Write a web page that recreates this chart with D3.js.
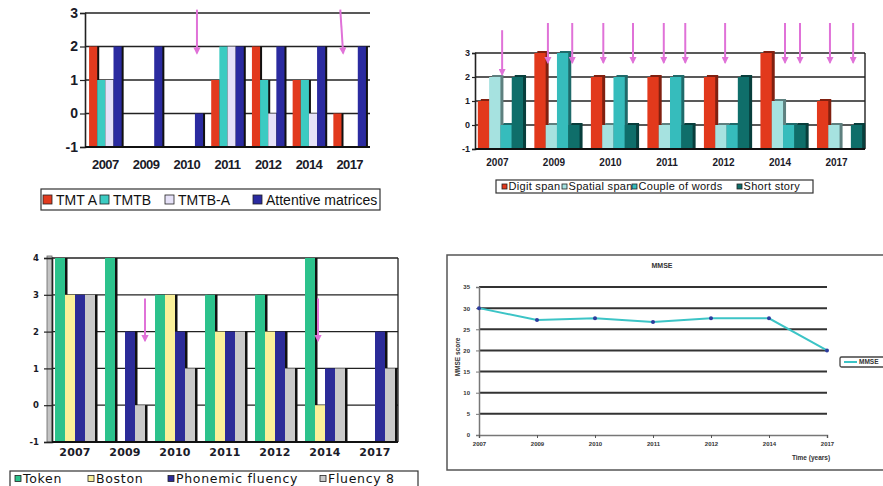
<!DOCTYPE html>
<html>
<head>
<meta charset="utf-8">
<script src="https://cdn.jsdelivr.net/npm/d3@7"></script>
<style>
body { margin: 0; background: #fff; }
svg { display: block; }
</style>
</head>
<body>
<div id="chart"></div>
<script>
// ---- data ----
var years = ["2007", "2009", "2010", "2011", "2012", "2014", "2017"];

var attentionNames = ["TMT A", "TMTB", "TMTB-A", "Attentive matrices"];
var tmtA = [2, -1, -1, 1, 2, 1, 0];
var tmtB = [1, -1, -1, 2, 1, 1, -1];
var tmtBA = [1, -1, -1, 2, 0, 0, -1];
var attentiveMatrices = [2, 2, 0, 2, 2, 2, 2];

var memoryNames = ["Digit span", "Spatial span", "Couple of words", "Short story"];
var digitSpan = [1, 3, 2, 2, 2, 3, 1];
var spatialSpan = [2, 0, 0, 0, 0, 1, 0];
var coupleOfWords = [0, 3, 2, 2, 0, 0, -1];
var shortStory = [2, 0, 0, 0, 2, 0, 0];

var languageNames = ["Token", "Boston", "Phonemic fluency", "Fluency 8"];
var token = [4, 4, 3, 3, 3, 4, -1];
var boston = [3, -1, 3, 2, 2, 0, -1];
var phonemicFluency = [3, 2, 2, 2, 2, 1, 2];
var fluency8 = [3, 0, 1, 2, 1, 1, 1];

var mmseName = "MMSE";
var mmse = [30, 27.2, 27.6, 26.7, 27.6, 27.6, 20];
var mmseTicks = [0, 5, 10, 15, 20, 25, 30, 35];

// arrows: [year, start / end position inside the group (fraction of step), top value, bottom value]
var attentionArrows = [["2010", 0.65, 0.65, 3.1, 1.8], ["2017", 0.17, 0.24, 3.1, 1.8]];
var memoryArrows = [["2007", 0.43, 0.43, 3.95, 2.1], ["2009", 0.24, 0.24, 4.25, 2.6], ["2009", 0.67, 0.67, 4.25, 2.6],
  ["2010", 0.22, 0.22, 4.25, 2.6], ["2010", 0.745, 0.745, 4.25, 2.6], ["2011", 0.29, 0.29, 4.25, 2.6],
  ["2011", 0.67, 0.67, 4.25, 2.6], ["2012", 0.375, 0.375, 4.25, 2.6], ["2014", 0.435, 0.435, 4.25, 2.6],
  ["2014", 0.70, 0.70, 4.25, 2.6], ["2017", 0.23, 0.23, 4.25, 2.6], ["2017", 0.64, 0.64, 4.25, 2.6]];
var languageArrows = [["2009", 0.8, 0.8, 2.9, 1.75], ["2014", 0.26, 0.26, 2.9, 1.75]];

var arrowColor = "#e072d8";

var svg = d3.select("#chart").append("svg")
    .attr("width", 883)
    .attr("height", 486);

svg.append("rect").attr("width", 883).attr("height", 486).attr("fill", "#fff");

svg.append("defs").append("marker")
    .attr("id", "arrowHead")
    .attr("viewBox", "0 0 10 10")
    .attr("refX", 8)
    .attr("refY", 5)
    .attr("markerWidth", 3.6)
    .attr("markerHeight", 3.6)
    .attr("orient", "auto")
    .append("path")
    .attr("d", "M0,0L10,5L0,10z")
    .attr("fill", arrowColor);

function barPanel(p) {
    var g = svg.append("g");

    var x0 = d3.scaleBand().domain(years)
        .range([p.left, p.right])
        .paddingInner(p.pi)
        .paddingOuter(p.po);

    var x1 = d3.scaleBand().domain(d3.range(p.series.length))
        .range([0, x0.bandwidth()]);

    var y = d3.scaleLinear().domain(p.domain).range([p.bottom, p.top]);
    var ticks = d3.range(p.domain[0], p.domain[1] + 1);

    if (p.wall) {
        g.append("rect")
            .attr("x", p.left - p.wall)
            .attr("y", p.top - 2)
            .attr("width", p.wall)
            .attr("height", p.bottom - p.top + 2)
            .attr("fill", "#c4c4c4")
            .attr("stroke", "#666")
            .attr("stroke-width", 0.8);
    }

    // horizontal gridlines
    g.selectAll("line.grid")
        .data(ticks.slice(1))
        .enter().append("line")
        .attr("class", "grid")
        .attr("x1", p.left).attr("x2", p.right)
        .attr("y1", function(d) { return y(d); })
        .attr("y2", function(d) { return y(d); })
        .attr("stroke", "#222")
        .attr("stroke-width", p.gridWidth);

    if (p.rightBorder) {
        g.append("line")
            .attr("x1", p.right).attr("x2", p.right)
            .attr("y1", p.top).attr("y2", p.bottom)
            .attr("stroke", "#222").attr("stroke-width", p.gridWidth);
    }

    // bars
    var cells = [];
    years.forEach(function(yr, i) {
        p.series.forEach(function(arr, s) {
            if (arr[i] > p.domain[0]) cells.push({ year: yr, s: s, v: arr[i] });
        });
    });

    var bar = g.selectAll("g.bar").data(cells).enter().append("g").attr("class", "bar");

    bar.append("rect")
        .attr("x", function(d) { return x0(d.year) + x1(d.s) + p.depthX; })
        .attr("y", function(d) { return y(d.v) - p.depthY; })
        .attr("width", x1.bandwidth())
        .attr("height", function(d) { return y(p.domain[0]) - y(d.v) + p.depthY; })
        .attr("fill", function(d) { return p.shade ? d3.color(p.colors[d.s]).darker(1.6) : "#111"; });

    bar.append("rect")
        .attr("x", function(d) { return x0(d.year) + x1(d.s); })
        .attr("y", function(d) { return y(d.v); })
        .attr("width", x1.bandwidth())
        .attr("height", function(d) { return y(p.domain[0]) - y(d.v); })
        .attr("fill", function(d) { return p.colors[d.s]; });

    // y axis
    var yAxis = d3.axisLeft(y).tickValues(ticks)
        .tickFormat(function(d) { return String(d); })
        .tickSize(p.tickLen).tickPadding(p.tickPad);
    var ya = g.append("g")
        .attr("transform", "translate(" + p.left + ",0)")
        .call(yAxis);
    ya.select(".domain").attr("stroke", "#222").attr("stroke-width", 1.6);
    ya.selectAll(".tick line").attr("stroke", "#222").attr("stroke-width", 1.2);
    ya.selectAll("text")
        .style("font-family", p.font)
        .style("font-size", p.yFontSize + "px")
        .style("font-weight", "bold")
        .attr("fill", "#1a1a28");

    // baseline
    g.append("line")
        .attr("x1", p.left).attr("x2", p.right)
        .attr("y1", y(p.domain[0])).attr("y2", y(p.domain[0]))
        .attr("stroke", "#111").attr("stroke-width", 2);

    // x labels
    var xAxis = d3.axisBottom(x0).tickSize(0).tickPadding(p.xPad);
    var xa = g.append("g")
        .attr("transform", "translate(" + p.xShift + "," + p.bottom + ")")
        .call(xAxis);
    xa.select(".domain").remove();
    xa.selectAll("text")
        .style("font-family", p.font)
        .style("font-size", p.xFontSize + "px")
        .style("font-weight", "bold")
        .style("letter-spacing", p.xSpacing + "px")
        .attr("fill", "#1a1a28");

    // arrows
    g.selectAll("line.arrow")
        .data(p.arrows)
        .enter().append("line")
        .attr("class", "arrow")
        .attr("x1", function(d) { return x0(d[0]) + d[1] * x0.step(); })
        .attr("x2", function(d) { return x0(d[0]) + d[2] * x0.step(); })
        .attr("y1", function(d) { return y(d[3]); })
        .attr("y2", function(d) { return y(d[4]); })
        .attr("stroke", arrowColor)
        .attr("stroke-width", 2)
        .attr("marker-end", "url(#arrowHead)");

    // legend
    var lg = p.legend;
    g.append("rect")
        .attr("x", lg.x).attr("y", lg.y)
        .attr("width", lg.w).attr("height", lg.h)
        .attr("fill", "#fff")
        .attr("stroke", "#333").attr("stroke-width", 1.2);

    var item = g.selectAll("g.lg").data(p.names).enter().append("g").attr("class", "lg");
    item.append("rect")
        .attr("x", function(d, i) { return lg.marks[i]; })
        .attr("y", lg.cy - lg.size / 2)
        .attr("width", lg.size).attr("height", lg.size)
        .attr("fill", function(d, i) { return p.colors[i]; })
        .attr("stroke", "#222").attr("stroke-width", 0.8);
    item.append("text")
        .attr("x", function(d, i) { return lg.marks[i] + lg.size + lg.gap; })
        .attr("y", lg.cy)
        .attr("dy", "0.36em")
        .style("font-family", lg.font)
        .style("font-size", lg.fontSize + "px")
        .style("letter-spacing", (lg.spacing || 0) + "px")
        .attr("fill", "#111")
        .text(function(d) { return d; });
}

// top-left: attention
barPanel({
    series: [tmtA, tmtB, tmtBA, attentiveMatrices],
    names: attentionNames,
    colors: ["#e23a1e", "#3ccbc2", "#e6e2f8", "#2b2ba0"],
    left: 85, right: 370, top: 13, bottom: 147, domain: [-1, 3],
    pi: 0.2, po: 0.1,
    depthX: 2, depthY: 0, shade: false,
    gridWidth: 1.3, rightBorder: false,
    font: "Liberation Sans, Arial, sans-serif",
    yFontSize: 14, tickLen: 5, tickPad: 2,
    xFontSize: 13, xPad: 13, xShift: 0, xSpacing: -0.6,
    arrows: attentionArrows,
    legend: { x: 41, y: 189, w: 339, h: 21, cy: 199.5, marks: [43, 100, 165, 253], size: 9, gap: 4,
              font: "Liberation Sans, Arial, sans-serif", fontSize: 14 }
});

// top-right: memory
barPanel({
    series: [digitSpan, spatialSpan, coupleOfWords, shortStory],
    names: memoryNames,
    colors: ["#e2391c", "#a6e2e0", "#36bcbc", "#0f6e6a"],
    left: 475, right: 865, top: 53, bottom: 149, domain: [-1, 3],
    pi: 0.2, po: 0.05,
    depthX: 3, depthY: 2, shade: true,
    gridWidth: 1.4, rightBorder: true,
    font: "Liberation Sans, Arial, sans-serif",
    yFontSize: 9, tickLen: 3, tickPad: 2,
    xFontSize: 10, xPad: 10, xShift: -3, xSpacing: 0,
    arrows: memoryArrows,
    legend: { x: 496, y: 180, w: 317, h: 13, cy: 186.5, marks: [502, 562, 632, 737], size: 5, gap: 1.5,
              font: "Liberation Sans, Arial, sans-serif", fontSize: 11, spacing: 0.3 }
});

// bottom-left: language
barPanel({
    series: [token, boston, phonemicFluency, fluency8],
    names: languageNames,
    colors: ["#2cc28c", "#faf09a", "#2b2b98", "#c9c9c9"],
    left: 52, right: 398, top: 258, bottom: 442, domain: [-1, 4],
    pi: 0.2, po: 0.06,
    depthX: 2.5, depthY: 0, shade: false,
    gridWidth: 1.3, rightBorder: true, wall: 5,
    font: "DejaVu Sans, sans-serif",
    yFontSize: 8.5, tickLen: 8, tickPad: 5,
    xFontSize: 11, xPad: 6, xShift: 0, xSpacing: 0.2,
    arrows: languageArrows,
    legend: { x: 10, y: 471, w: 408, h: 20, cy: 478.5, marks: [15, 88, 168, 320], size: 6, gap: 2,
              font: "DejaVu Sans, sans-serif", fontSize: 12.5, spacing: 0.7 }
});

// bottom-right: MMSE line chart
(function() {
    var g = svg.append("g");
    var left = 479, right = 827, top = 287, bottom = 435;

    g.append("rect")
        .attr("x", 447).attr("y", 255)
        .attr("width", 460).attr("height", 215)
        .attr("fill", "#fff")
        .attr("stroke", "#555").attr("stroke-width", 1.5);

    var x = d3.scalePoint().domain(years).range([left, right]);
    var y = d3.scaleLinear().domain([0, 35]).range([bottom, top]);

    g.selectAll("line.grid")
        .data(mmseTicks.slice(1))
        .enter().append("line")
        .attr("class", "grid")
        .attr("x1", left).attr("x2", right)
        .attr("y1", function(d) { return y(d); })
        .attr("y2", function(d) { return y(d); })
        .attr("stroke", "#333").attr("stroke-width", 2);

    var ya = g.append("g")
        .attr("transform", "translate(" + left + ",0)")
        .call(d3.axisLeft(y).tickValues(mmseTicks).tickSize(3).tickPadding(6));
    ya.select(".domain").attr("stroke", "#777").attr("stroke-width", 1.5);
    ya.selectAll(".tick line").attr("stroke", "#777");
    ya.selectAll("text")
        .style("font-family", "Liberation Sans, Arial, sans-serif")
        .style("font-size", "6px").style("font-weight", "bold")
        .attr("fill", "#333");

    var xa = g.append("g")
        .attr("transform", "translate(0," + bottom + ")")
        .call(d3.axisBottom(x).tickSize(3).tickPadding(4));
    xa.select(".domain").attr("stroke", "#777").attr("stroke-width", 1.5);
    xa.selectAll(".tick line").attr("stroke", "#555");
    xa.selectAll("text")
        .style("font-family", "Liberation Sans, Arial, sans-serif")
        .style("font-size", "6px").style("font-weight", "bold")
        .attr("fill", "#333");

    var line = d3.line()
        .x(function(d, i) { return x(years[i]); })
        .y(function(d) { return y(d); });

    g.append("path")
        .datum(mmse)
        .attr("d", line)
        .attr("fill", "none")
        .attr("stroke", "#3cc4c6")
        .attr("stroke-width", 2);

    g.selectAll("circle")
        .data(mmse)
        .enter().append("circle")
        .attr("cx", function(d, i) { return x(years[i]); })
        .attr("cy", function(d) { return y(d); })
        .attr("r", 2)
        .attr("fill", "#2c3c9e");

    g.append("text")
        .attr("x", 662).attr("y", 268)
        .attr("text-anchor", "middle")
        .style("font-family", "Liberation Sans, Arial, sans-serif")
        .style("font-size", "7px").style("font-weight", "bold")
        .attr("fill", "#333")
        .text(mmseName);

    g.append("text")
        .attr("transform", "rotate(-90)")
        .attr("x", -357).attr("y", 460)
        .attr("text-anchor", "middle")
        .style("font-family", "Liberation Sans, Arial, sans-serif")
        .style("font-size", "6.5px").style("font-weight", "bold")
        .attr("fill", "#333")
        .text("MMSE score");

    g.append("text")
        .attr("x", 811).attr("y", 460)
        .attr("text-anchor", "middle")
        .style("font-family", "Liberation Sans, Arial, sans-serif")
        .style("font-size", "6.5px").style("font-weight", "bold")
        .attr("fill", "#333")
        .text("Time (years)");

    // legend
    g.append("rect")
        .attr("x", 840).attr("y", 357)
        .attr("width", 60).attr("height", 10)
        .attr("rx", 1.5)
        .attr("fill", "#fff")
        .attr("stroke", "#444").attr("stroke-width", 1.3);
    g.append("line")
        .attr("x1", 844).attr("x2", 857)
        .attr("y1", 362).attr("y2", 362)
        .attr("stroke", "#3cc4c6").attr("stroke-width", 2);
    g.append("text")
        .attr("x", 859).attr("y", 362)
        .attr("dy", "0.35em")
        .style("font-family", "Liberation Sans, Arial, sans-serif")
        .style("font-size", "6.5px").style("font-weight", "bold")
        .attr("fill", "#333")
        .text(mmseName);
})();
</script>
</body>
</html>
